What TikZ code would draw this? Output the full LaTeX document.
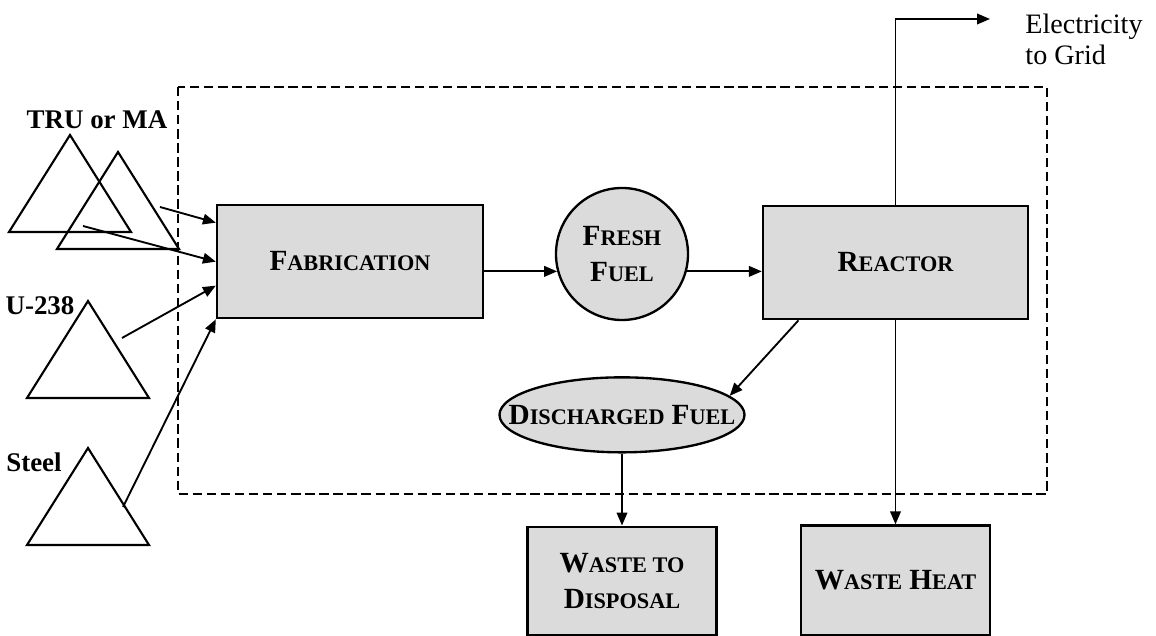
\documentclass[tikz,border=0pt]{standalone}
\usepackage{fontspec}
\setmainfont{Liberation Serif}
\usetikzlibrary{shapes.geometric,arrows.meta,positioning,calc}

% fake small caps: big initial, smaller rest
\newcommand{\fsc}[2]{{\bfseries\fontsize{12.5}{15}\selectfont #1}{\bfseries\fontsize{9.5}{15}\selectfont #2}}

\begin{document}
\begin{tikzpicture}[x=0.15mm,y=-0.15mm,
  every node/.style={font=\fontsize{12}{13}\selectfont},
  box/.style={rectangle,draw,line width=1pt,fill=gray!28,align=center,inner sep=0pt,font=\fontsize{12}{15}\selectfont\bfseries},
  fuel/.style={circle,draw,line width=1pt,fill=gray!28,align=center,inner sep=0pt,minimum size=19.8mm,font=\fontsize{12}{15}\selectfont\bfseries},
  disc/.style={ellipse,draw,line width=1pt,fill=gray!28,inner sep=0pt,minimum width=36.75mm,minimum height=11.25mm,font=\fontsize{12}{15}\selectfont\bfseries},
  src/.style={inner sep=0pt,font=\fontsize{11.5}{13}\selectfont\bfseries},
  bound/.style={line width=0.9pt,dash pattern=on 4pt off 2pt},
  flow/.style={line width=0.8pt,-{Triangle[length=5.5pt,width=4.5pt]}},
  srctri/.pic={\draw[line width=0.9pt] (0,0) -- (61,97) -- (-61,97) -- cycle;}
]
\useasboundingbox (0,0) rectangle (1156,636);

% system boundary
\draw[bound] (178,87) rectangle (1047,494);

% feed materials
\pic at (70,135) {srctri};
\pic at (118,152) {srctri};
\pic at (88,301) {srctri};
\pic at (88,448) {srctri};
\node[src] (tru) at (97,120) {TRU or MA};
\node[src] (u238) at (40,306) {U-238};
\node[src] (steel) at (34,462) {Steel};
\coordinate (truA) at (160,207);
\coordinate (truB) at (83,226);
\coordinate (uin) at (122,338);
\coordinate (stin) at (123,507);

% main chain
\node[box,minimum width=39.9mm,minimum height=17mm] (fab) at (350,261.5) {\fsc{F}{ABRICATION}};
\node[fuel] (fresh) at (622,254) {\fsc{F}{RESH}\\\fsc{F}{UEL}};
\node[box,minimum width=39.75mm,minimum height=17mm] (reac) at (895.5,262.5) {\fsc{R}{EACTOR}};
\node[disc, below=8.25mm of fresh] (dis) {\makebox[0pt]{\fsc{D}{ISCHARGED} \fsc{F}{UEL}}};
\node[box,minimum width=28.35mm,minimum height=16.3mm, below=10.8mm of dis] (wdisp) {\fsc{W}{ASTE TO}\\\fsc{D}{ISPOSAL}};
\node[box,minimum width=28.35mm,minimum height=16.4mm, below=30.6mm of reac] (wheat) {\fsc{W}{ASTE} \fsc{H}{EAT}};
\node[anchor=north west,align=left,inner sep=0pt] (grid) at (1025,14) {Electricity\\to Grid};
\coordinate (gridin) at (990,19);

\draw[flow] (truA) -- ([yshift=-2.85mm]fab.north west);
\draw[flow] (truB) -- ([yshift=-8.7mm]fab.north west);
\draw[flow] (uin) -- ([yshift=-12.3mm]fab.north west);
\draw[flow] (stin) -- (fab.south west);
\draw[flow] (fab.east |- fresh.195) -- (fresh.195);
\draw[flow] (fresh.-15) -- (reac.west |- fresh.-15);
\draw[flow] ([xshift=5.5mm]reac.south west) -- (dis.10);
\draw[flow] (dis.south) -- (wdisp.north);
\draw[flow] (reac.south) -- (wheat.north);
\draw[flow] (reac.north) |- (gridin);
\end{tikzpicture}
\end{document}
